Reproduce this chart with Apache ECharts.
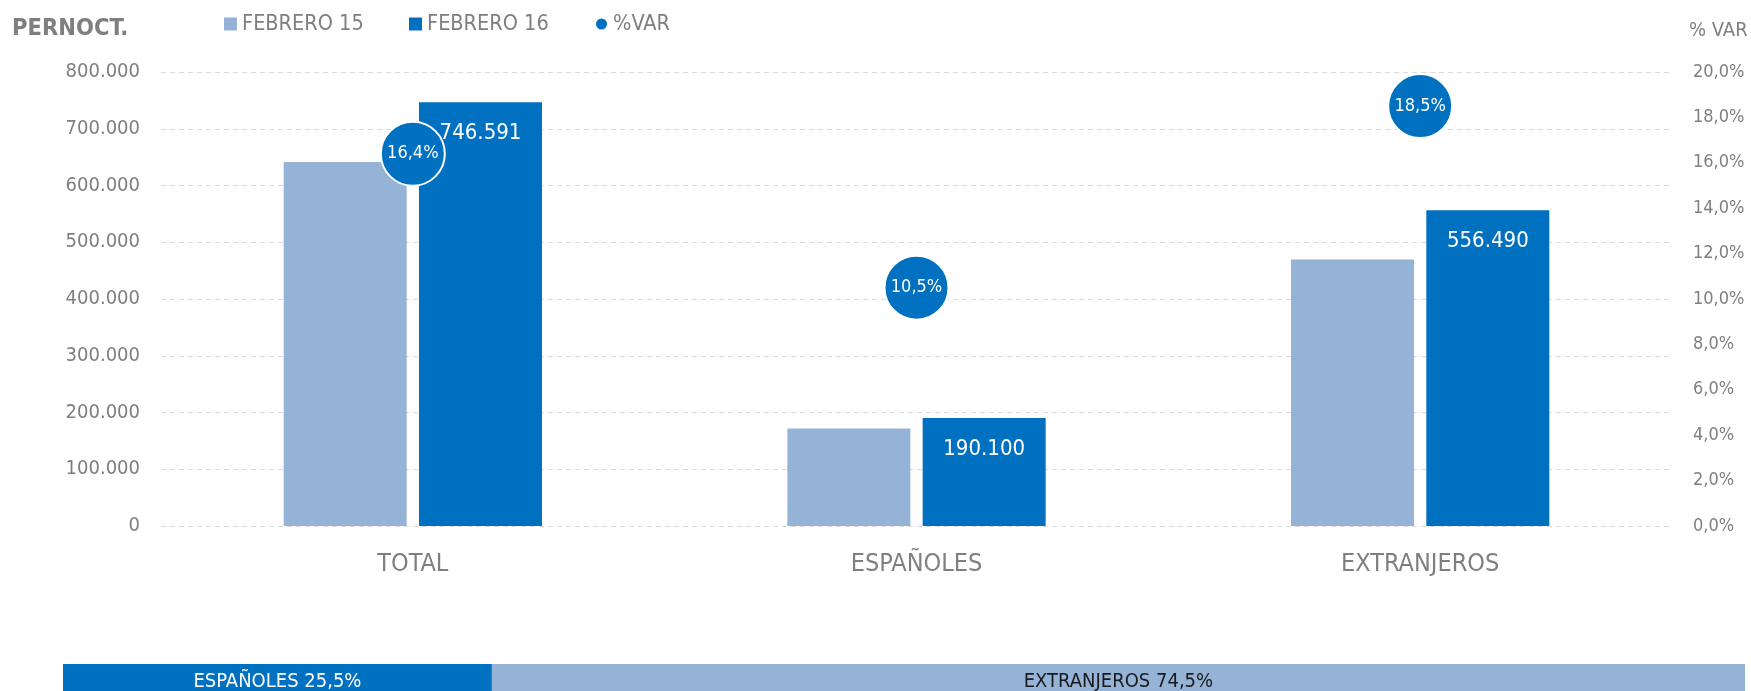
<!DOCTYPE html>
<html>
<head>
<meta charset="utf-8">
<script src="https://cdn.jsdelivr.net/npm/echarts@6/dist/echarts.min.js"></script>
<style>
  html, body { margin: 0; padding: 0; background: #fff; }
  #chart { width: 1751px; height: 691px; }
</style>
</head>
<body>
<div id="chart"></div>
<script>
var categories = ['TOTAL', 'ESPAÑOLES', 'EXTRANJEROS'];
var feb15 = [641400, 172000, 469600];
var feb16 = [746591, 190100, 556490];
var varPct = [16.4, 10.5, 18.5];
var shareNames = ['ESPAÑOLES', 'EXTRANJEROS'];
var shareValues = [25.5, 74.5];

var FONT = "'Liberation Sans Narrow', 'DejaVu Sans Condensed', 'Roboto Condensed', sans-serif";
var GREY = '#7f7f7f';
var LIGHT = '#95b3d7';
var DARK = '#0070c0';

function thousands(v) {
  return String(v).replace(/\B(?=(\d{3})+(?!\d))/g, '.');
}
function pct(v) {
  return v.toFixed(1).replace('.', ',') + '%';
}

// one legend per item so each sits where the original put it
function legendItem(name, icon, left) {
  return {
    left: left,
    top: 13,
    padding: 0,
    itemWidth: 13,
    itemHeight: 13,
    selectedMode: false,
    textStyle: { fontFamily: FONT, fontSize: 21.5, color: GREY },
    data: [{ name: name, icon: icon }]
  };
}

var chart = echarts.init(document.getElementById('chart'));

var option = {
  backgroundColor: '#ffffff',
  animation: false,
  textStyle: { fontFamily: FONT },
  title: [{
    text: 'PERNOCT.',
    left: 12,
    top: 17,
    padding: 0,
    textStyle: { fontFamily: FONT, fontWeight: 'bold', fontSize: 23.5, color: GREY }
  }],
  legend: [
    legendItem('FEBRERO 15', 'rect', 224),
    legendItem('FEBRERO 16', 'rect', 409),
    legendItem('%VAR', 'circle', 594)
  ],
  grid: [
    { left: 161, right: 79, top: 72, bottom: 165 },
    { left: 63, right: 6, top: 664, bottom: -13 }
  ],
  xAxis: [{
    type: 'category',
    gridIndex: 0,
    data: categories,
    axisLine: { show: false },
    axisTick: { show: false },
    axisLabel: { fontFamily: FONT, fontSize: 25, color: GREY, margin: 26 }
  }, {
    type: 'value',
    gridIndex: 1,
    min: 0,
    max: 100,
    show: false
  }],
  yAxis: [{
    type: 'value',
    gridIndex: 0,
    min: 0,
    max: 800000,
    interval: 100000,
    axisLine: { show: false },
    axisTick: { show: false },
    axisLabel: { fontFamily: FONT, fontSize: 20, color: GREY, margin: 21, formatter: thousands },
    splitLine: { lineStyle: { type: [5, 4], color: '#d9d9d9', width: 1 } }
  }, {
    type: 'value',
    gridIndex: 0,
    position: 'right',
    min: 0,
    max: 20,
    interval: 2,
    name: '% VAR',
    nameGap: 41,
    nameTextStyle: { fontFamily: FONT, fontSize: 20, color: GREY, align: 'left', verticalAlign: 'middle', padding: [0, 0, 0, 17] },
    axisLine: { show: false },
    axisTick: { show: false },
    splitLine: { show: false },
    axisLabel: { fontFamily: FONT, fontSize: 18, color: GREY, margin: 21, formatter: pct }
  }, {
    type: 'category',
    gridIndex: 1,
    data: ['share'],
    show: false
  }],
  series: [{
    name: 'FEBRERO 15',
    type: 'bar',
    data: feb15,
    barWidth: 123,
    barGap: '10%',
    itemStyle: { color: LIGHT }
  }, {
    name: 'FEBRERO 16',
    type: 'bar',
    data: feb16,
    barWidth: 123,
    barGap: '10%',
    itemStyle: { color: DARK },
    label: {
      show: true,
      position: 'insideTop',
      distance: 20,
      fontFamily: FONT,
      fontSize: 22,
      color: '#ffffff',
      formatter: function (p) { return thousands(p.value); }
    }
  }, {
    name: '%VAR',
    type: 'scatter',
    yAxisIndex: 1,
    data: varPct,
    symbol: 'circle',
    symbolSize: 64,
    z: 5,
    itemStyle: { color: DARK, opacity: 1, borderColor: '#ffffff', borderWidth: 2 },
    label: {
      show: true,
      position: 'inside',
      fontFamily: FONT,
      fontSize: 18,
      color: '#ffffff',
      formatter: function (p) { return pct(p.value); }
    }
  }, {
    name: shareNames[0],
    type: 'bar',
    xAxisIndex: 1,
    yAxisIndex: 2,
    stack: 'share',
    barWidth: '100%',
    data: [shareValues[0]],
    itemStyle: { color: DARK },
    label: {
      show: true,
      position: 'inside',
      offset: [0, 4],
      fontFamily: FONT,
      fontSize: 20,
      color: '#ffffff',
      formatter: function (p) { return p.seriesName + ' ' + pct(p.value); }
    }
  }, {
    name: shareNames[1],
    type: 'bar',
    xAxisIndex: 1,
    yAxisIndex: 2,
    stack: 'share',
    barWidth: '100%',
    data: [shareValues[1]],
    itemStyle: { color: LIGHT },
    label: {
      show: true,
      position: 'inside',
      offset: [0, 4],
      fontFamily: FONT,
      fontSize: 20,
      color: '#1a1a1a',
      formatter: function (p) { return p.seriesName + ' ' + pct(p.value); }
    }
  }]
};

chart.setOption(option);
</script>
</body>
</html>
